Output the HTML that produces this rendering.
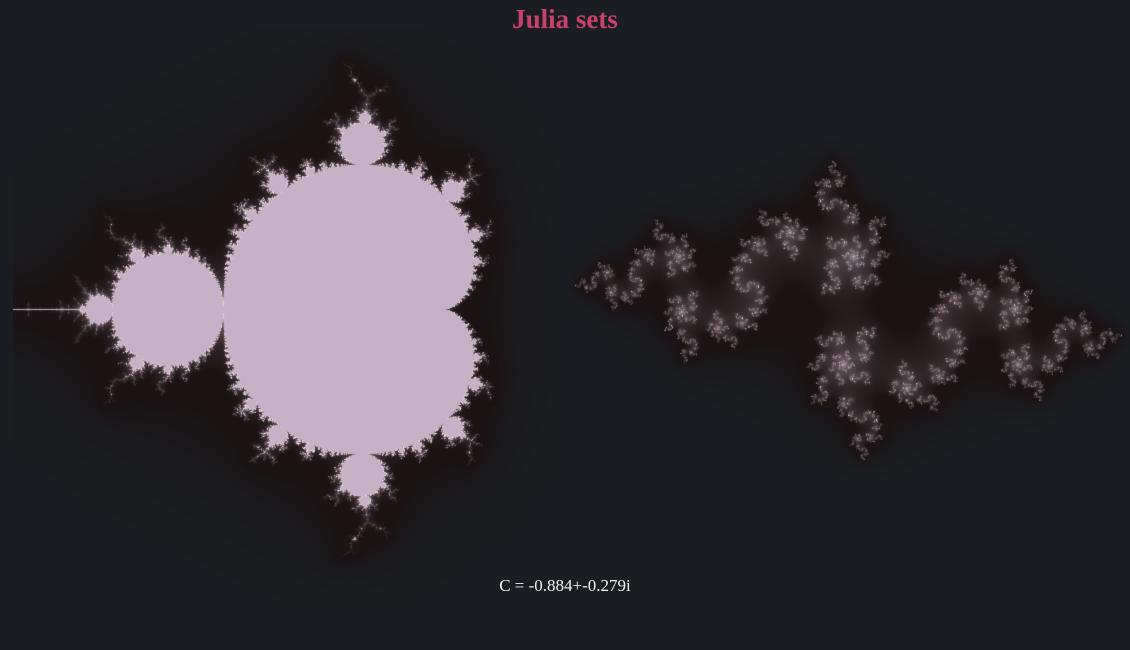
<!DOCTYPE html>
<html><head><meta charset="utf-8">
<style>
html,body{margin:0;padding:0;background:#1a1d21;}
#wrap{position:relative;width:1130px;height:650px;overflow:hidden;background:#1a1d21;}
canvas{position:absolute;left:0;top:0;}
#title{position:absolute;left:0;width:1130px;top:4px;text-align:center;font-family:"Liberation Serif","DejaVu Serif",serif;font-weight:bold;font-size:27px;color:#c9406a;}
#clabel{position:absolute;left:0;width:1130px;top:576px;text-align:center;font-family:"Liberation Serif","DejaVu Serif",serif;font-size:17px;color:#f2f2f2;}
</style></head>
<body>
<div id="wrap">
<canvas id="cv" width="1130" height="650"></canvas>
<div id="title">Julia sets</div>
<div id="clabel">C = -0.884+-0.279i</div>
</div>
<script>
const cRe = [-0.884];
const cIm = [-0.279];
const mandelIter = [200];
const juliaIter = [300];

const cv = document.getElementById('cv');
const ctx = cv.getContext('2d');
const W = 1130, H = 650;
const img = ctx.createImageData(W, H);
const d = img.data;
const BG = [26,29,33], DARK = [27,19,20], GLOW = [232,210,224], INSIDE = [198,178,198];
for (let i = 0; i < W*H; i++) { d[i*4]=BG[0]; d[i*4+1]=BG[1]; d[i*4+2]=BG[2]; d[i*4+3]=255; }
function clamp(v){return v<0?0:v>1?1:v;}
function mix(a,b,t){return [a[0]+(b[0]-a[0])*t,a[1]+(b[1]-a[1])*t,a[2]+(b[2]-a[2])*t];}
function extColor(mu, span, p){
  if (mu < 2.5) return BG;
  let c = mix(BG, DARK, clamp((mu-2.5)/4));
  const b = Math.pow(clamp((mu-10)/span), p);
  return mix(c, GLOW, b);
}
function put(px,py,c){const k=(py*W+px)*4;d[k]=c[0];d[k+1]=c[1];d[k+2]=c[2];}

// Mandelbrot
const mMax = mandelIter[0];
for (let py = 30; py < 600; py++) {
  for (let px = 13; px < 560; px++) {
    const cr = -0.75 + (px-223)/222, ci = (309-py)/222;
    let zr=0, zi=0, n=0, r2=0;
    while (n < mMax) { const t=zr*zr-zi*zi+cr; zi=2*zr*zi+ci; zr=t; r2=zr*zr+zi*zi; if (r2>256) break; n++; }
    if (n >= mMax) put(px,py,INSIDE);
    else { const mu = n + 1 - Math.log2(Math.log(r2)/2); put(px,py,extColor(mu,75,1.0)); }
  }
}

// Julia
const jMax = juliaIter[0], jr = cRe[0], ji = cIm[0];
function jIter(zr,zi,max){let n=0,r2=0;while(n<max){const t=zr*zr-zi*zi+jr;zi=2*zr*zi+ji;zr=t;r2=zr*zr+zi*zi;if(r2>256)break;n++;}return [n,r2];}
let reMin=9,reMax=-9,imMin=9,imMax=-9;
for (let a=0;a<500;a++) for (let b=0;b<500;b++){
  const zr=-2+4*a/499, zi=-2+4*b/499;
  const r=jIter(zr,zi,80);
  if (r[0]>=40){ if(zr<reMin)reMin=zr; if(zr>reMax)reMax=zr; if(zi<imMin)imMin=zi; if(zi>imMax)imMax=zi; }
}
const X0=584,X1=1112,Y0=165,Y1=455;
for (let py = 40; py < 600; py++) {
  for (let px = 560; px < W; px++) {
    const zr = reMin + (px-X0)/(X1-X0)*(reMax-reMin);
    const zi = imMin + (py-Y0)/(Y1-Y0)*(imMax-imMin);
    const r = jIter(zr,zi,jMax);
    if (r[0] >= jMax) put(px,py,GLOW);
    else { const mu = r[0] + 1 - Math.log2(Math.log(r[1])/2); put(px,py,extColor(mu,70,0.9)); }
  }
}
ctx.putImageData(img,0,0);
</script>
</body></html>
